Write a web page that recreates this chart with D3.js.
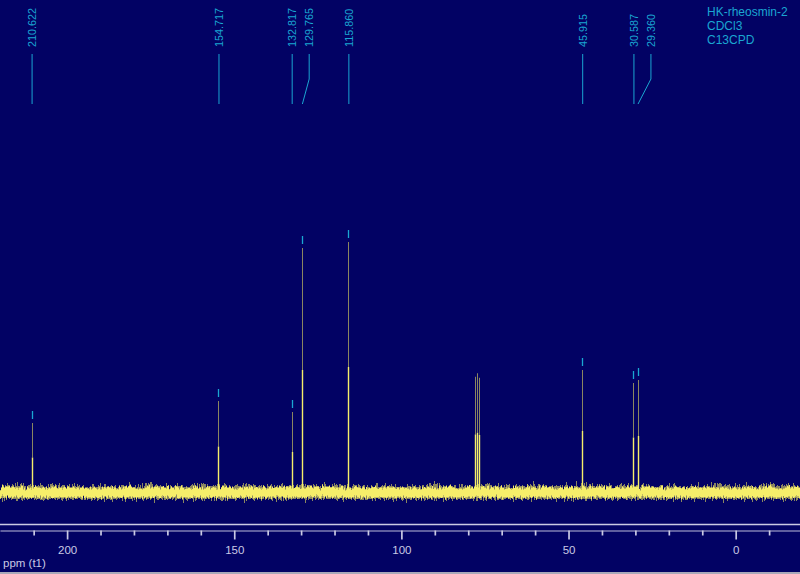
<!DOCTYPE html>
<html>
<head>
<meta charset="utf-8">
<script src="https://cdn.jsdelivr.net/npm/d3@7/dist/d3.min.js"></script>
<style>
  html, body { margin: 0; padding: 0; background: #020264; }
  svg { display: block; }
</style>
</head>
<body>
<script>
// ---- data ----
const peakPpm       = [210.622, 154.717, 132.817, 129.765, 115.860, 77.9, 77.3, 76.7, 45.915, 30.587, 29.360];
const peakIntensity = [27.6,    36.4,    32.0,    97.6,    100.0,   46.1, 47.5, 45.7, 48.8,   43.6,   44.8];
const pickedPeaks   = [210.622, 154.717, 132.817, 129.765, 115.860, 45.915, 30.587, 29.360];
const legendLines   = ["HK-rheosmin-2", "CDCl3", "C13CPD"];
const majorTicks    = [200, 150, 100, 50, 0];
const minorTicks    = [210, 190, 180, 170, 160, 140, 130, 120, 110, 90, 80, 70, 60, 40, 30, 20, 10, -10];
const axisTitle     = "ppm (t1)";

const W = 800, H = 574;
const bg = "#020264", yellow = "#f6ee6a", dimYellow = "#8a8660", cyan = "#1aa6d2", axisCol = "#cacae4";
const font = "Liberation Sans, Arial, sans-serif";

const svg = d3.select("body").append("svg").attr("width", W).attr("height", H);
svg.append("rect").attr("width", W).attr("height", H).attr("fill", bg);

const x = d3.scaleLinear().domain([220.07, -19.24]).range([0, W]);
const y = d3.scaleLinear().domain([0, 100]).range([492, 242]);

// axis (drawn first so nothing else can cover it)
svg.append("line").attr("x1", 0).attr("x2", W).attr("y1", 524.5).attr("y2", 524.5).attr("stroke", axisCol).attr("stroke-width", 1.3);
const minorAxis = svg.append("g").attr("transform", "translate(0,530.5)")
  .call(d3.axisBottom(x).tickValues(minorTicks).tickSize(5).tickSizeOuter(0).tickFormat(""));
const majorAxis = svg.append("g").attr("transform", "translate(0,530.5)")
  .call(d3.axisBottom(x).tickValues(majorTicks).tickSize(9).tickSizeOuter(0).tickPadding(6));
[minorAxis, majorAxis].forEach(g => {
  g.select(".domain").attr("stroke", axisCol).attr("stroke-width", 1).attr("opacity", 0.55);
  g.selectAll(".tick line").attr("stroke", axisCol).attr("stroke-width", 1.7);
  g.selectAll(".tick text").attr("fill", axisCol).attr("font-family", font).attr("font-size", 11.5);
});
svg.append("text").attr("x", 3).attr("y", 567).attr("fill", axisCol)
  .attr("font-family", font).attr("font-size", 11.5).text(axisTitle);
svg.append("rect").attr("x", 0).attr("y", 572).attr("width", W).attr("height", 2).attr("fill", "#a8a8b8");

// noise texture (purely a rendering effect)
const defs = svg.append("defs");
function noiseFilter(id, freq, seed, scale) {
  const f = defs.append("filter").attr("id", id).attr("x", "-0.02").attr("y", "-1").attr("width", "1.04").attr("height", "3");
  f.append("feTurbulence").attr("type", "fractalNoise").attr("baseFrequency", freq).attr("numOctaves", 2).attr("seed", seed).attr("result", "t");
  f.append("feDisplacementMap").attr("in", "SourceGraphic").attr("in2", "t").attr("scale", scale).attr("xChannelSelector", "R").attr("yChannelSelector", "G");
}
noiseFilter("noiseA", "0.9 0.04", 7, 14);
noiseFilter("noiseB", "0.8 0.05", 3, 9);

svg.append("rect").attr("x", -20).attr("width", W + 40).attr("y", y(0) - 6).attr("height", 13)
  .attr("fill", dimYellow).attr("filter", "url(#noiseA)");
svg.append("rect").attr("x", -20).attr("width", W + 40).attr("y", y(0) - 4.5).attr("height", 10)
  .attr("fill", yellow).attr("filter", "url(#noiseB)");

// peaks
const peaks = peakPpm.map((p, i) => ({ p, v: peakIntensity[i] }));
const px = d => Math.round(x(d.p)) + 0.5;
const pg = svg.append("g");
pg.selectAll("line.upper").data(peaks).join("line").attr("class", "upper")
  .attr("x1", px).attr("x2", px)
  .attr("y1", d => y(d.v / 2)).attr("y2", d => y(d.v))
  .attr("stroke", dimYellow).attr("stroke-width", 1);
pg.selectAll("line.lower").data(peaks).join("line").attr("class", "lower")
  .attr("x1", px).attr("x2", px)
  .attr("y1", y(0) + 4).attr("y2", d => y(d.v / 2))
  .attr("stroke", yellow).attr("stroke-width", 1.4);

// peak-pick markers
const picked = peaks.filter(d => pickedPeaks.includes(d.p));
svg.append("g").selectAll("line.mark").data(picked).join("line").attr("class", "mark")
  .attr("x1", px).attr("x2", px)
  .attr("y1", d => y(d.v) - 12).attr("y2", d => y(d.v) - 4)
  .attr("stroke", cyan).attr("stroke-width", 1.3);

// labels with simple de-overlap
const minGap = 17;
const labs = picked.map(d => ({ p: d.p, cx: x(d.p) })).sort((a, b) => a.cx - b.cx);
labs.forEach((d, i) => { d.lx = i > 0 ? Math.max(d.cx, labs[i - 1].lx + minGap) : d.cx; });
const lg = svg.append("g");
lg.selectAll("path").data(labs).join("path")
  .attr("d", d => `M${d.lx + 0.5},54 L${d.lx + 0.5},79 L${d.cx + 0.5},104`)
  .attr("fill", "none").attr("stroke", cyan).attr("stroke-width", 1);
lg.selectAll("text").data(labs).join("text")
  .attr("transform", d => `translate(${d.lx + 4.5},47) rotate(-90)`)
  .attr("fill", cyan).attr("font-family", font).attr("font-size", 10.8)
  .text(d => d3.format(".3f")(d.p));

// legend
svg.append("g").selectAll("text").data(legendLines).join("text")
  .attr("x", 707).attr("y", (d, i) => 16 + i * 14)
  .attr("fill", cyan).attr("font-family", font).attr("font-size", 12)
  .text(d => d);
</script>
</body>
</html>
